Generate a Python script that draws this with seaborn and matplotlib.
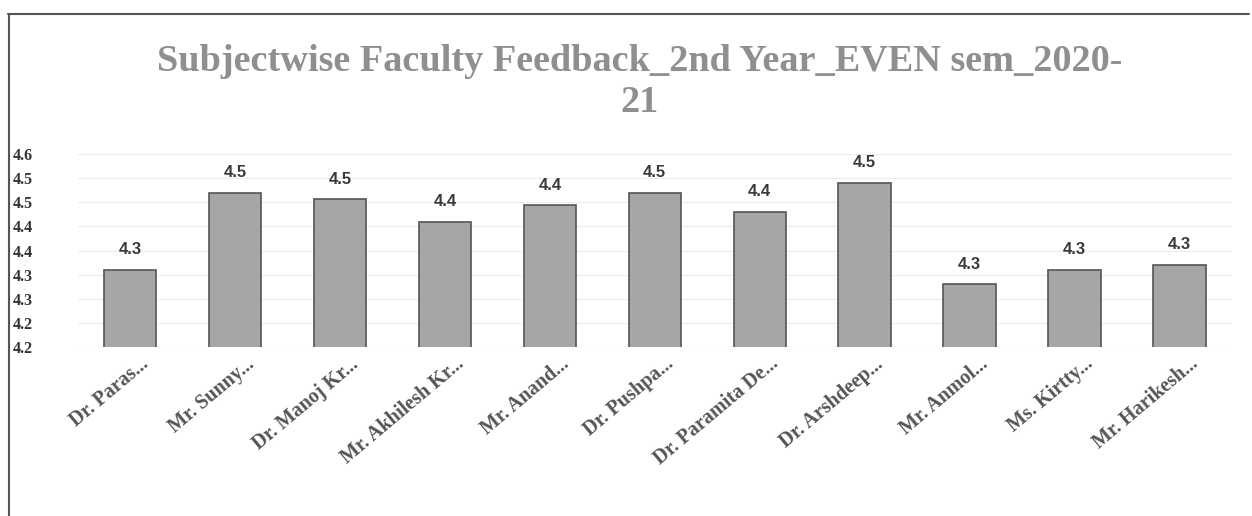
import matplotlib
matplotlib.use("Agg")
import matplotlib.pyplot as plt
import matplotlib.transforms as mtransforms
import seaborn as sns
import pandas as pd
from matplotlib.lines import Line2D

names = ["Dr. Paras...", "Mr. Sunny...", "Dr. Manoj Kr...", "Mr. Akhilesh Kr...",
         "Mr. Anand...", "Dr. Pushpa...", "Dr. Paramita De...", "Dr. Arshdeep...",
         "Mr. Anmol...", "Ms. Kirtty...", "Mr. Harikesh..."]
scores = [4.31, 4.47, 4.456, 4.41, 4.444, 4.47, 4.43, 4.49, 4.28, 4.31, 4.32]
yticks = [4.15, 4.20, 4.25, 4.30, 4.35, 4.40, 4.45, 4.50, 4.55]
title = "Subjectwise Faculty Feedback_2nd Year_EVEN sem_2020-\n21"

sns.set_theme(style="white")
plt.rcParams['font.family'] = ['DejaVu Sans']

df = pd.DataFrame({"name": names, "score": scores})

fig = plt.figure(figsize=(12.52, 5.16), dpi=100)
fig.patch.set_facecolor("white")
ax = fig.add_axes([0.062, 0.3275, 0.922, 0.374])

sns.barplot(data=df, x="name", y="score", color="#a6a6a6", width=0.5,
            edgecolor="#555555", linewidth=1.2, saturation=1, ax=ax)

ax.set_ylim(yticks[0], yticks[-1])
ax.set_xlim(-0.5, len(names) - 0.5)
ax.set_yticks(yticks)
ax.set_yticklabels([f"{v + 1e-9:.1f}" for v in yticks], family="Liberation Serif",
                   fontweight="bold", fontsize=11.5, color="#333333")
ax.tick_params(axis="y", length=0, pad=32)
ax.tick_params(axis="x", length=0, pad=5)
ax.set_xticks(range(len(names)))
ax.set_xticklabels(names, rotation=40, ha="right", rotation_mode="anchor",
                   family="Liberation Serif", fontweight="bold", fontsize=14.5,
                   color="#555555")
shift = mtransforms.ScaledTranslation(10 / 100, 0, fig.dpi_scale_trans)
for lbl in ax.get_xticklabels():
    lbl.set_transform(lbl.get_transform() + shift)
ax.set_xlabel("")
ax.set_ylabel("")
ax.yaxis.grid(True, color="#ececec", linewidth=0.8)
ax.set_axisbelow(True)
for s in ax.spines.values():
    s.set_visible(False)

for i, v in enumerate(scores):
    ax.annotate(f"{v:.1f}", (i, v), xytext=(0, 9), textcoords="offset points",
                ha="center", va="bottom", fontsize=12, fontweight="bold",
                family="Liberation Sans", color="#3a3a3a")

fig.text(0.511, 0.914, title, ha="center", va="top", family="Liberation Serif",
         fontweight="bold", fontsize=27.5, color="#8f8f8f", linespacing=1.2)

# outer chart frame (top and left edges)
fig.add_artist(Line2D([0.006, 0.998], [0.972, 0.972], transform=fig.transFigure,
                      color="#555555", linewidth=1.5))
fig.add_artist(Line2D([0.007, 0.007], [0.0, 0.972], transform=fig.transFigure,
                      color="#555555", linewidth=1.5))

fig.savefig("out.png", dpi=100, facecolor="white")
